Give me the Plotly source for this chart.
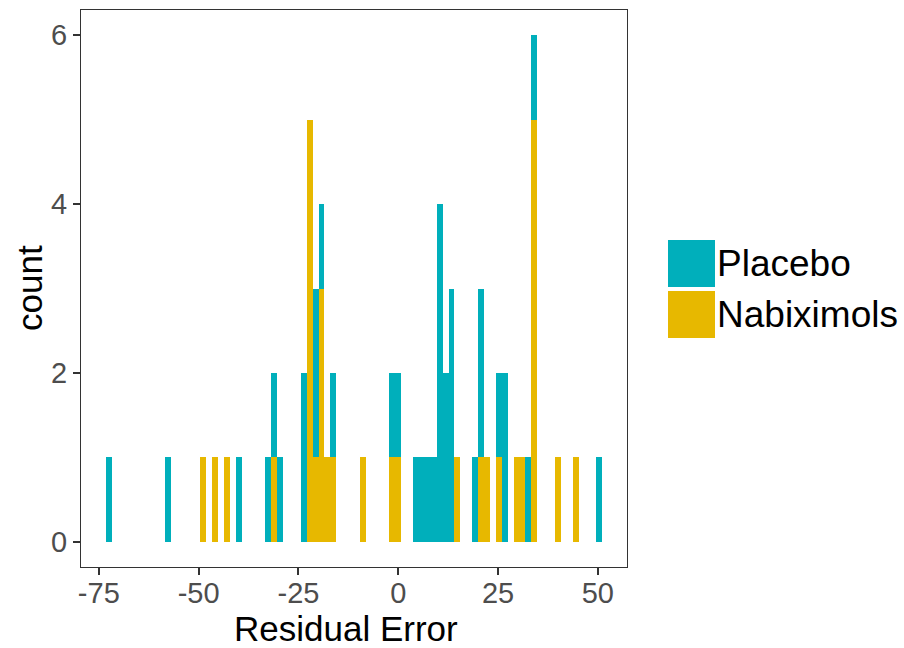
import plotly.graph_objects as go

# ---- data (bin centres, counts; bin width 1.48) ----
bin_width = 1.48

placebo_x = [-72.50, -57.70, -39.94, -32.54, -31.06, -29.58, -23.66, -20.70, -19.22,
             -16.26, -1.46, 0.02, 4.46, 5.94, 7.42, 8.90, 10.38, 11.86, 13.34,
             19.26, 20.74, 25.18, 26.66, 32.58, 34.06, 50.34]
placebo_n = [1, 1, 1, 1, 1, 1, 2, 2, 1,
             1, 1, 1, 1, 1, 1, 1, 4, 2, 3,
             1, 2, 1, 2, 1, 1, 1]

nabix_x = [-48.82, -45.86, -42.90, -31.06, -22.18, -20.70, -19.22, -17.74, -16.26,
           -8.86, -1.46, 0.02, 14.82, 20.74, 22.22, 25.18, 29.62, 31.10, 34.06,
           39.98, 44.42]
nabix_n = [1, 1, 1, 1, 5, 1, 3, 1, 1,
           1, 1, 1, 1, 1, 1, 1, 1, 1, 5,
           1, 1]

series_names = ["Placebo", "Nabiximols"]
series_colors = ["#00AFBB", "#E7B800"]

x_tickvals = [-75, -50, -25, 0, 25, 50]
x_ticktext = ["-75", "-50", "-25", "0", "25", "50"]
y_tickvals = [0, 2, 4, 6]
y_ticktext = ["0", "2", "4", "6"]

x_title = "Residual Error"
y_title = "count"

# ---- layout constants (pixels) ----
W, H = 904, 648
PL, PR, PT, PB = 81, 627, 10, 567
FONT = "Liberation Sans, Arial, sans-serif"

fig = go.Figure()
# bottom of the stack first (Nabiximols), Placebo on top
fig.add_trace(go.Bar(x=nabix_x, y=nabix_n, width=bin_width, name=series_names[1],
                     marker=dict(color=series_colors[1], line=dict(width=0)),
                     showlegend=False))
fig.add_trace(go.Bar(x=placebo_x, y=placebo_n, width=bin_width, name=series_names[0],
                     marker=dict(color=series_colors[0], line=dict(width=0)),
                     showlegend=False))

def px_to_paper_x(px):
    return (px - PL) / (PR - PL)

def px_to_paper_y(py):
    return (PB - py) / (PB - PT)

# manual legend (large square keys like ggplot)
shapes = []
annotations = []
key_boxes = [(668, 240, 715, 287), (668, 291, 715, 338)]
for (x0, y0, x1, y1), name, col in zip(key_boxes, series_names, series_colors):
    shapes.append(dict(type="rect", xref="paper", yref="paper",
                       x0=px_to_paper_x(x0), x1=px_to_paper_x(x1),
                       y0=px_to_paper_y(y1), y1=px_to_paper_y(y0),
                       fillcolor=col, line=dict(width=0)))
    annotations.append(dict(text=name, xref="paper", yref="paper",
                            x=px_to_paper_x(715), y=px_to_paper_y((y0 + y1) / 2),
                            xanchor="left", yanchor="middle", showarrow=False,
                            font=dict(family=FONT, size=37, color="black")))

# axis titles
annotations.append(dict(text=x_title, xref="paper", yref="paper",
                        x=px_to_paper_x(346), y=px_to_paper_y(628),
                        xanchor="center", yanchor="middle", showarrow=False,
                        font=dict(family=FONT, size=35, color="black")))
annotations.append(dict(text=y_title, xref="paper", yref="paper",
                        x=px_to_paper_x(29), y=px_to_paper_y(288), textangle=-90,
                        xanchor="center", yanchor="middle", showarrow=False,
                        font=dict(family=FONT, size=35, color="black")))

axis_common = dict(showgrid=False, zeroline=False, showline=True, mirror=True,
                   linecolor="#333333", linewidth=1.2, automargin=False,
                   ticks="outside", ticklen=7, tickwidth=1.5, tickcolor="#333333",
                   tickfont=dict(family=FONT, size=29, color="#4D4D4D"))

fig.update_layout(
    width=W, height=H,
    margin=dict(l=PL, r=W - PR, t=PT, b=H - PB, pad=0, autoexpand=False),
    barmode="stack", bargap=0,
    plot_bgcolor="white", paper_bgcolor="white",
    font=dict(family=FONT),
    shapes=shapes, annotations=annotations,
    xaxis=dict(range=[-79.46, 57.30], tickvals=x_tickvals, ticktext=x_ticktext,
               ticklabelstandoff=-7, **axis_common),
    yaxis=dict(range=[-0.3, 6.3], tickvals=y_tickvals, ticktext=y_ticktext,
               **axis_common),
)

fig.write_html("out.html",
               config={"displayModeBar": False},
               post_script="document.body.style.margin='0';document.body.style.overflow='hidden';")
